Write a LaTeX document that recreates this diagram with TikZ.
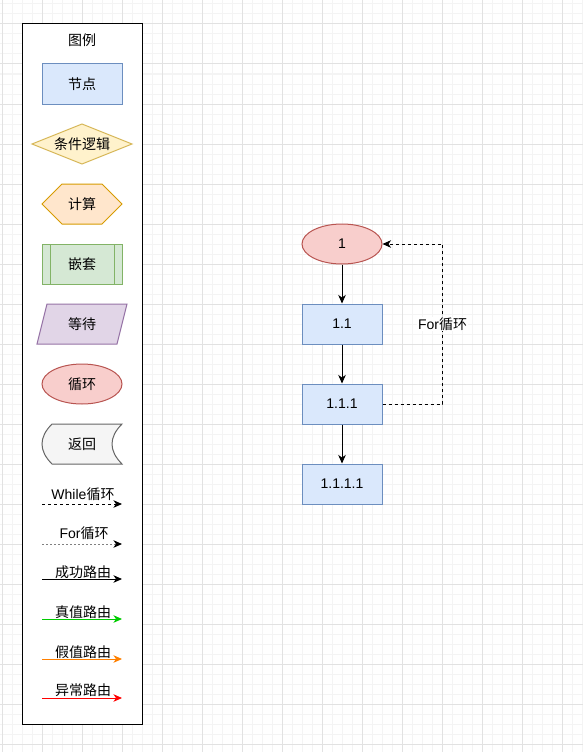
\documentclass[tikz,border=0pt]{standalone}
\usepackage{fontspec}
\setmainfont{Liberation Sans}
\newfontfamily\cjk{Noto Sans CJK SC}
\usetikzlibrary{arrows.meta,shapes.geometric}

\definecolor{minorgrid}{HTML}{F4F4F4}
\definecolor{majorgrid}{HTML}{E2E2E2}
\definecolor{blueFill}{HTML}{DAE8FC}
\definecolor{blueLine}{HTML}{6C8EBF}
\definecolor{yellowFill}{HTML}{FFF2CC}
\definecolor{yellowLine}{HTML}{D6B656}
\definecolor{orangeFill}{HTML}{FFE6CC}
\definecolor{orangeLine}{HTML}{D79B00}
\definecolor{greenFill}{HTML}{D5E8D4}
\definecolor{greenLine}{HTML}{82B366}
\definecolor{purpleFill}{HTML}{E1D5E7}
\definecolor{purpleLine}{HTML}{9673A6}
\definecolor{redFill}{HTML}{F8CECC}
\definecolor{redLine}{HTML}{B85450}
\definecolor{greyFill}{HTML}{F5F5F5}
\definecolor{greyLine}{HTML}{666666}
\definecolor{trueRoute}{HTML}{00CC00}
\definecolor{falseRoute}{HTML}{FF8000}
\definecolor{errRoute}{HTML}{FF0000}
\definecolor{forLine}{HTML}{808080}

\tikzset{
  txt/.style={font=\fontsize{14}{16}\selectfont, inner sep=0pt},
  nodebox/.style={txt, draw=blueLine, fill=blueFill, line width=1pt,
    minimum width=80pt, minimum height=40pt},
  loopell/.style={txt, ellipse, draw=redLine, fill=redFill, line width=1pt,
    minimum width=80pt, minimum height=40pt},
  tip/.style={-{Stealth[length=8.5pt,width=7.5pt,inset=2.5pt]}},
  blacktip/.style={-{Stealth[length=8.5pt,width=7.5pt,inset=2.5pt,black]}},
  flowarrow/.style={tip, line width=1pt, black},
  dashpat/.style={dash pattern=on 3pt off 3pt},
  dotpat/.style={dash pattern=on 2pt off 2pt},
  shapeline/.style={line width=1pt},
}

\begin{document}
\begin{tikzpicture}[x=1pt,y=-1pt]
\useasboundingbox (0,0) rectangle (583,752);
\fill[white] (0,0) rectangle (583,752);

% background grid
\foreach \gx in {2,12,...,582} \draw[minorgrid, line width=1pt] (\gx,0) -- (\gx,752);
\foreach \gy in {4,14,...,752} \draw[minorgrid, line width=1pt] (0,\gy) -- (583,\gy);
\foreach \gx in {2,42,...,582} \draw[majorgrid, line width=1pt] (\gx,0) -- (\gx,752);
\foreach \gy in {24,64,...,752} \draw[majorgrid, line width=1pt] (0,\gy) -- (583,\gy);

% legend panel
\draw[fill=white, line width=1pt] (22,24) rectangle (142,724);
\node[txt] (legendTitle) at (82,40) {\cjk 图例};

% node
\node[nodebox] (legNode) at (82,84) {\cjk 节点};

% condition
\draw[shapeline, draw=yellowLine, fill=yellowFill]
  (32,144) -- (82,124) -- (132,144) -- (82,164) -- cycle;
\node[txt] (legCond) at (82,144) {\cjk 条件逻辑};

% calculation
\draw[shapeline, draw=orangeLine, fill=orangeFill]
  (42,204) -- (62,184) -- (102,184) -- (122,204) -- (102,224) -- (62,224) -- cycle;
\node[txt] (legCalc) at (82,204) {\cjk 计算};

% nested
\draw[shapeline, draw=greenLine, fill=greenFill] (42,244) rectangle (122,284);
\draw[shapeline, draw=greenLine] (50,244) -- (50,284) (114,244) -- (114,284);
\node[txt] (legNest) at (82,264) {\cjk 嵌套};

% wait
\draw[shapeline, draw=purpleLine, fill=purpleFill]
  (47,304) -- (127,304) -- (117,344) -- (37,344) -- cycle;
\node[txt] (legWait) at (82,324) {\cjk 等待};

% loop
\node[loopell] (legLoop) at (82,384) {\cjk 循环};

% return
\draw[shapeline, draw=greyLine, fill=greyFill]
  (52,424) -- (122,424)
  .. controls (108.67,437.33) and (108.67,450.67) .. (122,464)
  -- (52,464)
  .. controls (38.67,450.67) and (38.67,437.33) .. (52,424) -- cycle;
\node[txt] (legReturn) at (82,444) {\cjk 返回};

% route styles
\coordinate (whileA) at (42,504);  \coordinate (whileB) at (122,504);
\draw[tip, line width=1pt, dashpat] (whileA) -- (whileB);
\node[txt] (whileLbl) at (83,494) {While{\cjk 循环}};

\coordinate (forA) at (42,544);  \coordinate (forB) at (122,544);
\draw[blacktip, line width=1pt, dotpat, draw=forLine] (forA) -- (forB);
\node[txt] (forLbl) at (84,533) {For{\cjk 循环}};

\coordinate (okA) at (42,579);  \coordinate (okB) at (122,579);
\draw[tip, line width=1pt] (okA) -- (okB);
\node[txt] (okLbl) at (83,572) {\cjk 成功路由};

\coordinate (trueA) at (42,619);  \coordinate (trueB) at (122,619);
\draw[tip, line width=1pt, trueRoute] (trueA) -- (trueB);
\node[txt] (trueLbl) at (83,612) {\cjk 真值路由};

\coordinate (falseA) at (42,659);  \coordinate (falseB) at (122,659);
\draw[tip, line width=1pt, falseRoute] (falseA) -- (falseB);
\node[txt] (falseLbl) at (83,652) {\cjk 假值路由};

\coordinate (errA) at (42,698);  \coordinate (errB) at (122,698);
\draw[tip, line width=1pt, errRoute] (errA) -- (errB);
\node[txt] (errLbl) at (83,690) {\cjk 异常路由};

% flow
\node[loopell] (n1) at (342,244) {1};
\node[nodebox] (n11) at (342,324) {1.1};
\node[nodebox] (n111) at (342,404) {1.1.1};
\node[nodebox] (n1111) at (342,484) {1.1.1.1};

\draw[flowarrow] (n1) -- (n11);
\draw[flowarrow] (n11) -- (n111);
\draw[flowarrow] (n111) -- (n1111);
\draw[flowarrow, dashpat] (n111.east) -- ++(60,0) |- (n1.east)
  node[txt, pos=0.25, fill=white, inner sep=1pt] (forLoopLbl) {For{\cjk 循环}};
\end{tikzpicture}
\end{document}
